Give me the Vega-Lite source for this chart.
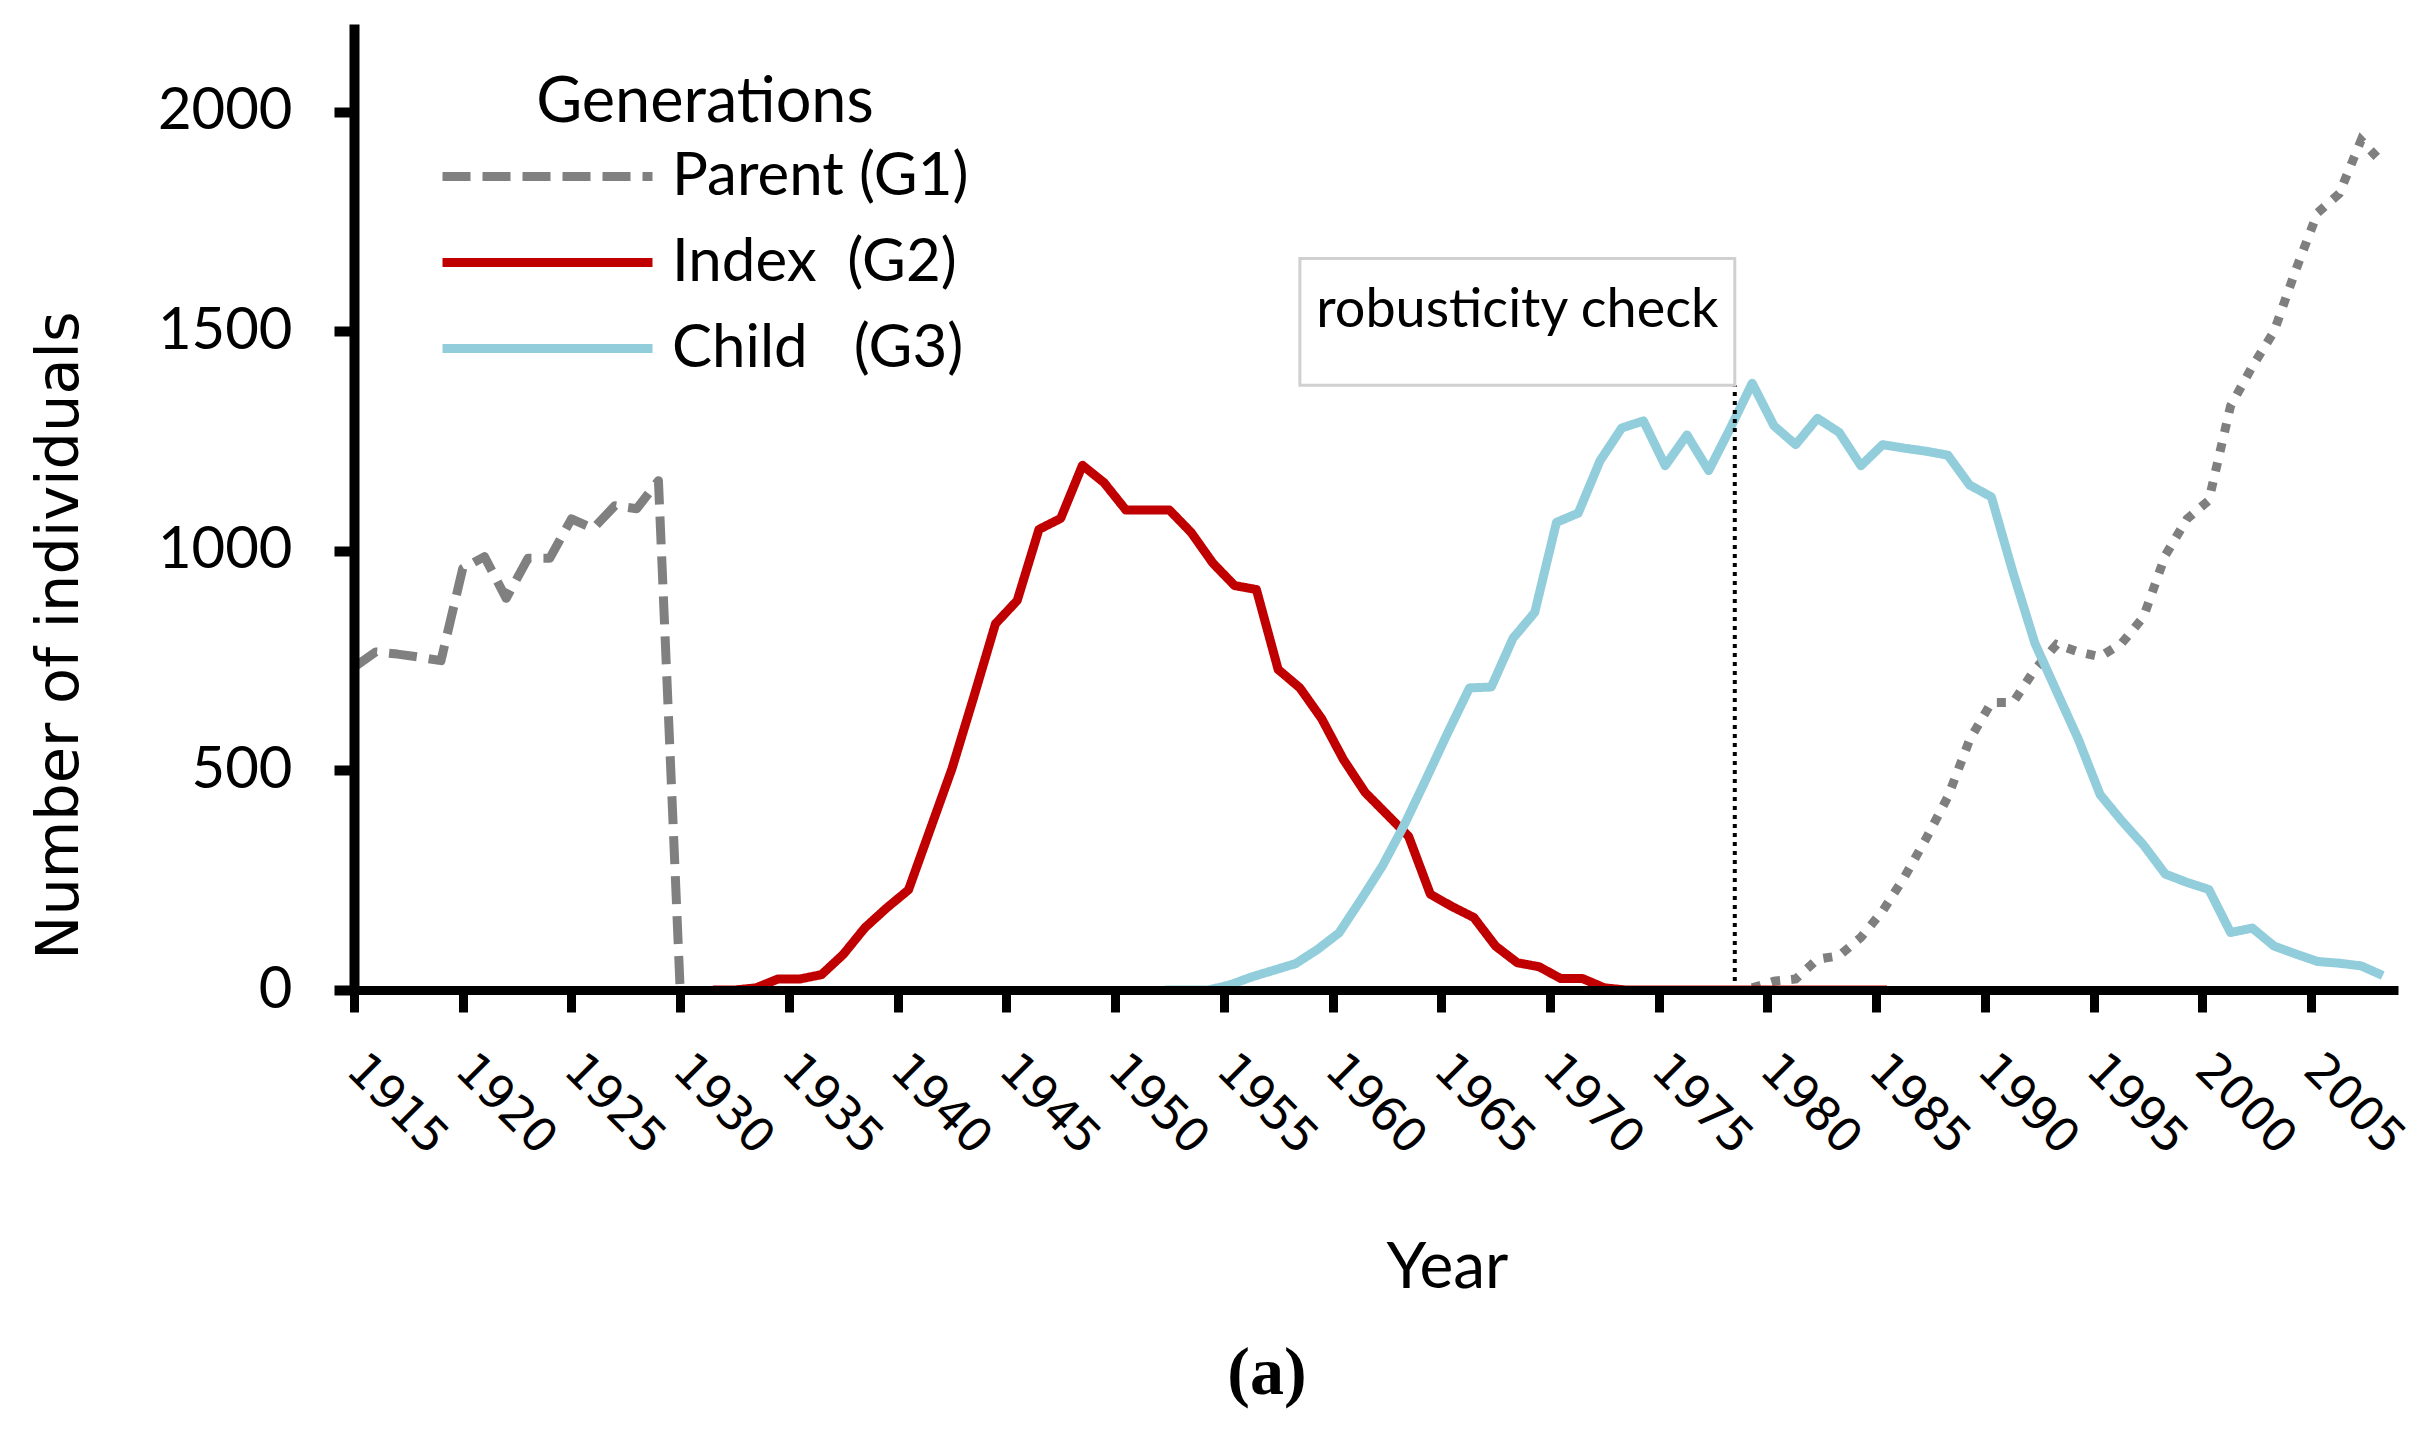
{
  "$schema": "https://vega.github.io/schema/vega-lite/v6.json",
  "width": 2044,
  "height": 966,
  "autosize": {"type": "none"},
  "padding": {"left": 354, "top": 24, "right": 36, "bottom": 460},
  "background": "white",
  "config": {"view": {"stroke": null}},
  "title": {"text": "(a)", "orient": "bottom", "anchor": "start", "frame": "group", "dx": 913, "align": "center", "offset": 40, "font": "Liberation Serif", "fontSize": 68, "fontWeight": "bold", "color": "black", "baseline": "top"},
  "datasets": {
    "lines": [
      {"year": 1915, "n": 735, "s": "G1"}, {"year": 1916, "n": 770, "s": "G1"}, {"year": 1917, "n": 765, "s": "G1"}, {"year": 1918, "n": 758, "s": "G1"}, {"year": 1919, "n": 750, "s": "G1"}, {"year": 1920, "n": 960, "s": "G1"}, {"year": 1921, "n": 987, "s": "G1"}, {"year": 1922, "n": 892, "s": "G1"}, {"year": 1923, "n": 983, "s": "G1"}, {"year": 1924, "n": 983, "s": "G1"}, {"year": 1925, "n": 1073, "s": "G1"}, {"year": 1926, "n": 1051, "s": "G1"}, {"year": 1927, "n": 1103, "s": "G1"}, {"year": 1928, "n": 1096, "s": "G1"}, {"year": 1929, "n": 1160, "s": "G1"}, {"year": 1930, "n": 0, "s": "G1"},
      {"year": 1931.5, "n": 0, "s": "G2"}, {"year": 1932.5, "n": 0, "s": "G2"}, {"year": 1933.5, "n": 5, "s": "G2"}, {"year": 1934.5, "n": 25, "s": "G2"}, {"year": 1935.5, "n": 25, "s": "G2"}, {"year": 1936.5, "n": 35, "s": "G2"}, {"year": 1937.5, "n": 81, "s": "G2"}, {"year": 1938.5, "n": 142, "s": "G2"}, {"year": 1939.5, "n": 187, "s": "G2"}, {"year": 1940.5, "n": 228, "s": "G2"}, {"year": 1941.5, "n": 366, "s": "G2"}, {"year": 1942.5, "n": 504, "s": "G2"}, {"year": 1943.5, "n": 667, "s": "G2"}, {"year": 1944.5, "n": 834, "s": "G2"}, {"year": 1945.5, "n": 887, "s": "G2"}, {"year": 1946.5, "n": 1049, "s": "G2"}, {"year": 1947.5, "n": 1074, "s": "G2"}, {"year": 1948.5, "n": 1195, "s": "G2"}, {"year": 1949.5, "n": 1155, "s": "G2"}, {"year": 1950.5, "n": 1093, "s": "G2"}, {"year": 1951.5, "n": 1093, "s": "G2"}, {"year": 1952.5, "n": 1093, "s": "G2"}, {"year": 1953.5, "n": 1042, "s": "G2"}, {"year": 1954.5, "n": 972, "s": "G2"}, {"year": 1955.5, "n": 921, "s": "G2"}, {"year": 1956.5, "n": 912, "s": "G2"}, {"year": 1957.5, "n": 730, "s": "G2"}, {"year": 1958.5, "n": 688, "s": "G2"}, {"year": 1959.5, "n": 618, "s": "G2"}, {"year": 1960.5, "n": 525, "s": "G2"}, {"year": 1961.5, "n": 450, "s": "G2"}, {"year": 1962.5, "n": 400, "s": "G2"}, {"year": 1963.5, "n": 350, "s": "G2"}, {"year": 1964.5, "n": 218, "s": "G2"}, {"year": 1965.5, "n": 190, "s": "G2"}, {"year": 1966.5, "n": 165, "s": "G2"}, {"year": 1967.5, "n": 100, "s": "G2"}, {"year": 1968.5, "n": 62, "s": "G2"}, {"year": 1969.5, "n": 53, "s": "G2"}, {"year": 1970.5, "n": 26, "s": "G2"}, {"year": 1971.5, "n": 26, "s": "G2"}, {"year": 1972.5, "n": 5, "s": "G2"}, {"year": 1973.5, "n": 0, "s": "G2"}, {"year": 1974.5, "n": 0, "s": "G2"}, {"year": 1975.5, "n": 0, "s": "G2"}, {"year": 1976.5, "n": 0, "s": "G2"}, {"year": 1977.5, "n": 0, "s": "G2"}, {"year": 1978.5, "n": 0, "s": "G2"}, {"year": 1979.5, "n": 0, "s": "G2"}, {"year": 1980.5, "n": 0, "s": "G2"}, {"year": 1981.5, "n": 0, "s": "G2"}, {"year": 1982.5, "n": 0, "s": "G2"}, {"year": 1983.5, "n": 0, "s": "G2"}, {"year": 1984.5, "n": 0, "s": "G2"}, {"year": 1985.5, "n": 0, "s": "G2"},
      {"year": 1952.3, "n": 0, "s": "G3"}, {"year": 1953.3, "n": 0, "s": "G3"}, {"year": 1954.3, "n": 0, "s": "G3"}, {"year": 1955.3, "n": 12, "s": "G3"}, {"year": 1956.3, "n": 30, "s": "G3"}, {"year": 1957.3, "n": 45, "s": "G3"}, {"year": 1958.3, "n": 60, "s": "G3"}, {"year": 1959.3, "n": 92, "s": "G3"}, {"year": 1960.3, "n": 130, "s": "G3"}, {"year": 1961.3, "n": 205, "s": "G3"}, {"year": 1962.3, "n": 283, "s": "G3"}, {"year": 1963.3, "n": 376, "s": "G3"}, {"year": 1964.3, "n": 480, "s": "G3"}, {"year": 1965.3, "n": 586, "s": "G3"}, {"year": 1966.3, "n": 688, "s": "G3"}, {"year": 1967.3, "n": 690, "s": "G3"}, {"year": 1968.3, "n": 801, "s": "G3"}, {"year": 1969.3, "n": 860, "s": "G3"}, {"year": 1970.3, "n": 1065, "s": "G3"}, {"year": 1971.3, "n": 1086, "s": "G3"}, {"year": 1972.3, "n": 1205, "s": "G3"}, {"year": 1973.3, "n": 1280, "s": "G3"}, {"year": 1974.3, "n": 1296, "s": "G3"}, {"year": 1975.3, "n": 1194, "s": "G3"}, {"year": 1976.3, "n": 1264, "s": "G3"}, {"year": 1977.3, "n": 1183, "s": "G3"}, {"year": 1978.3, "n": 1280, "s": "G3"}, {"year": 1979.3, "n": 1382, "s": "G3"}, {"year": 1980.3, "n": 1285, "s": "G3"}, {"year": 1981.3, "n": 1242, "s": "G3"}, {"year": 1982.3, "n": 1302, "s": "G3"}, {"year": 1983.3, "n": 1270, "s": "G3"}, {"year": 1984.3, "n": 1194, "s": "G3"}, {"year": 1985.3, "n": 1242, "s": "G3"}, {"year": 1986.3, "n": 1234, "s": "G3"}, {"year": 1987.3, "n": 1227, "s": "G3"}, {"year": 1988.3, "n": 1218, "s": "G3"}, {"year": 1989.3, "n": 1150, "s": "G3"}, {"year": 1990.3, "n": 1123, "s": "G3"}, {"year": 1991.3, "n": 950, "s": "G3"}, {"year": 1992.3, "n": 790, "s": "G3"}, {"year": 1993.3, "n": 680, "s": "G3"}, {"year": 1994.3, "n": 571, "s": "G3"}, {"year": 1995.3, "n": 445, "s": "G3"}, {"year": 1996.3, "n": 385, "s": "G3"}, {"year": 1997.3, "n": 330, "s": "G3"}, {"year": 1998.3, "n": 264, "s": "G3"}, {"year": 1999.3, "n": 245, "s": "G3"}, {"year": 2000.3, "n": 229, "s": "G3"}, {"year": 2001.3, "n": 131, "s": "G3"}, {"year": 2002.3, "n": 141, "s": "G3"}, {"year": 2003.3, "n": 100, "s": "G3"}, {"year": 2004.3, "n": 82, "s": "G3"}, {"year": 2005.3, "n": 65, "s": "G3"}, {"year": 2006.3, "n": 61, "s": "G3"}, {"year": 2007.3, "n": 55, "s": "G3"}, {"year": 2008.3, "n": 33, "s": "G3"},
      {"year": 1979.3, "n": 5, "s": "G4"}, {"year": 1980.3, "n": 20, "s": "G4"}, {"year": 1981.3, "n": 25, "s": "G4"}, {"year": 1982.3, "n": 70, "s": "G4"}, {"year": 1983.3, "n": 78, "s": "G4"}, {"year": 1984.3, "n": 120, "s": "G4"}, {"year": 1985.3, "n": 180, "s": "G4"}, {"year": 1986.3, "n": 257, "s": "G4"}, {"year": 1987.3, "n": 345, "s": "G4"}, {"year": 1988.3, "n": 440, "s": "G4"}, {"year": 1989.3, "n": 570, "s": "G4"}, {"year": 1990.3, "n": 655, "s": "G4"}, {"year": 1991.3, "n": 655, "s": "G4"}, {"year": 1992.3, "n": 730, "s": "G4"}, {"year": 1993.3, "n": 787, "s": "G4"}, {"year": 1994.3, "n": 770, "s": "G4"}, {"year": 1995.3, "n": 759, "s": "G4"}, {"year": 1996.3, "n": 790, "s": "G4"}, {"year": 1997.3, "n": 850, "s": "G4"}, {"year": 1998.3, "n": 990, "s": "G4"}, {"year": 1999.3, "n": 1073, "s": "G4"}, {"year": 2000.3, "n": 1115, "s": "G4"}, {"year": 2001.3, "n": 1330, "s": "G4"}, {"year": 2002.3, "n": 1420, "s": "G4"}, {"year": 2003.3, "n": 1500, "s": "G4"}, {"year": 2004.3, "n": 1640, "s": "G4"}, {"year": 2005.3, "n": 1770, "s": "G4"}, {"year": 2006.3, "n": 1814, "s": "G4"}, {"year": 2007.3, "n": 1935, "s": "G4"}, {"year": 2008.3, "n": 1883, "s": "G4"}
    ],
    "box": [{"x1": 1958.5, "x2": 1978.5, "y0": 0, "y1": 1377, "y2": 1666, "ty": 1547, "tx": 1968.5, "label": "robusticity check"}]
  },
  "layer": [
    {
      "data": {"name": "lines"},
      "transform": [{"filter": "datum.s == 'G4'"}],
      "mark": {"type": "line", "color": "#7F7F7F", "strokeWidth": 9, "strokeDash": [9, 11], "strokeCap": "butt"},
      "encoding": {
        "x": {"field": "year", "type": "quantitative", "scale": {"domain": [1915, 2009], "nice": false, "zero": false},
          "axis": {"values": [1915, 1920, 1925, 1930, 1935, 1940, 1945, 1950, 1955, 1960, 1965, 1970, 1975, 1980, 1985, 1990, 1995, 2000, 2005], "format": "d", "labelAngle": 45, "labelAlign": "left", "labelBaseline": "middle", "labelFont": "DejaVu Sans", "labelFontSize": 47, "labelColor": "black", "labelPadding": 50, "labelOverlap": false, "labelFlush": false, "tickSize": 22, "tickWidth": 9, "tickColor": "black", "domainColor": "black", "domainWidth": 9, "grid": false, "zindex": 1, "title": "Year", "titleFont": "Lato", "titleFontSize": 64, "titleFontWeight": "normal", "titleColor": "black", "titleX": 1093, "titleY": 297, "titleAlign": "center", "titleBaseline": "alphabetic"}},
        "y": {"field": "n", "type": "quantitative", "scale": {"domain": [0, 2200], "nice": false},
          "axis": {"values": [0, 500, 1000, 1500, 2000], "format": "d", "labelFont": "Lato", "labelFontSize": 58, "labelColor": "black", "labelPadding": 42, "tickSize": 20, "tickWidth": 10, "tickColor": "black", "domainColor": "black", "domainWidth": 10, "grid": false, "zindex": 1, "title": "Number of individuals", "titleFont": "DejaVu Sans", "titleFontSize": 59, "titleFontWeight": "normal", "titleColor": "black", "titleAngle": -90, "titleX": -277, "titleY": 611, "titleAlign": "center", "titleBaseline": "alphabetic"}}
      }
    },
    {
      "data": {"name": "lines"},
      "transform": [{"filter": "datum.s != 'G4'"}],
      "mark": {"type": "line", "strokeWidth": 9, "strokeCap": "butt", "strokeJoin": "round"},
      "encoding": {
        "x": {"field": "year", "type": "quantitative"},
        "y": {"field": "n", "type": "quantitative"},
        "color": {"field": "s", "type": "nominal", "scale": {"domain": ["G1", "G2", "G3"], "range": ["#808080", "#C00000", "#92CDDC"]},
          "legend": {"orient": "none", "legendX": 88, "legendY": 48, "padding": 0, "title": "Generations", "titleFont": "Lato", "titleFontSize": 63, "titleFontWeight": "normal", "titleColor": "black", "titleAnchor": "middle", "titleAlign": "center", "titlePadding": 2, "titleLimit": 2000, "labelFont": "Lato", "labelFontSize": 60, "labelColor": "black", "labelLimit": 2000, "symbolType": "M-3,0L3,0", "symbolSize": 4900, "symbolStrokeWidth": 9, "symbolOffset": 66, "labelOffset": 85, "rowPadding": 16, "labelExpr": "datum.label == 'G1' ? 'Parent (G1)' : datum.label == 'G2' ? 'Index\u00a0\u00a0(G2)' : 'Child\u00a0\u00a0\u00a0(G3)'"}},
        "strokeDash": {"field": "s", "type": "nominal", "scale": {"domain": ["G1", "G2", "G3"], "range": [[28, 12], [1, 0], [1, 0]]},
          "legend": {"orient": "none", "legendX": 88, "legendY": 48, "padding": 0, "title": "Generations", "titleFont": "Lato", "titleFontSize": 63, "titleFontWeight": "normal", "titleColor": "black", "titleAnchor": "middle", "titleAlign": "center", "titlePadding": 2, "titleLimit": 2000, "labelFont": "Lato", "labelFontSize": 60, "labelColor": "black", "labelLimit": 2000, "symbolType": "M-3,0L3,0", "symbolSize": 4900, "symbolStrokeWidth": 9, "symbolOffset": 66, "labelOffset": 85, "rowPadding": 16, "labelExpr": "datum.label == 'G1' ? 'Parent (G1)' : datum.label == 'G2' ? 'Index\u00a0\u00a0(G2)' : 'Child\u00a0\u00a0\u00a0(G3)'"}}
      }
    },
    {
      "data": {"name": "box"},
      "mark": {"type": "rule", "color": "black", "strokeWidth": 4, "strokeDash": [4, 5]},
      "encoding": {
        "x": {"field": "x2", "type": "quantitative"},
        "y": {"field": "y0", "type": "quantitative"},
        "y2": {"field": "y1"}
      }
    },
    {
      "data": {"name": "box"},
      "mark": {"type": "rect", "fill": "white", "stroke": "#D0D0D0", "strokeWidth": 3},
      "encoding": {
        "x": {"field": "x1", "type": "quantitative"},
        "x2": {"field": "x2"},
        "y": {"field": "y1", "type": "quantitative"},
        "y2": {"field": "y2"}
      }
    },
    {
      "data": {"name": "box"},
      "mark": {"type": "text", "font": "Lato", "fontSize": 54, "color": "black", "align": "center", "baseline": "middle"},
      "encoding": {
        "x": {"field": "tx", "type": "quantitative"},
        "y": {"field": "ty", "type": "quantitative"},
        "text": {"field": "label"}
      }
    }
  ]
}
